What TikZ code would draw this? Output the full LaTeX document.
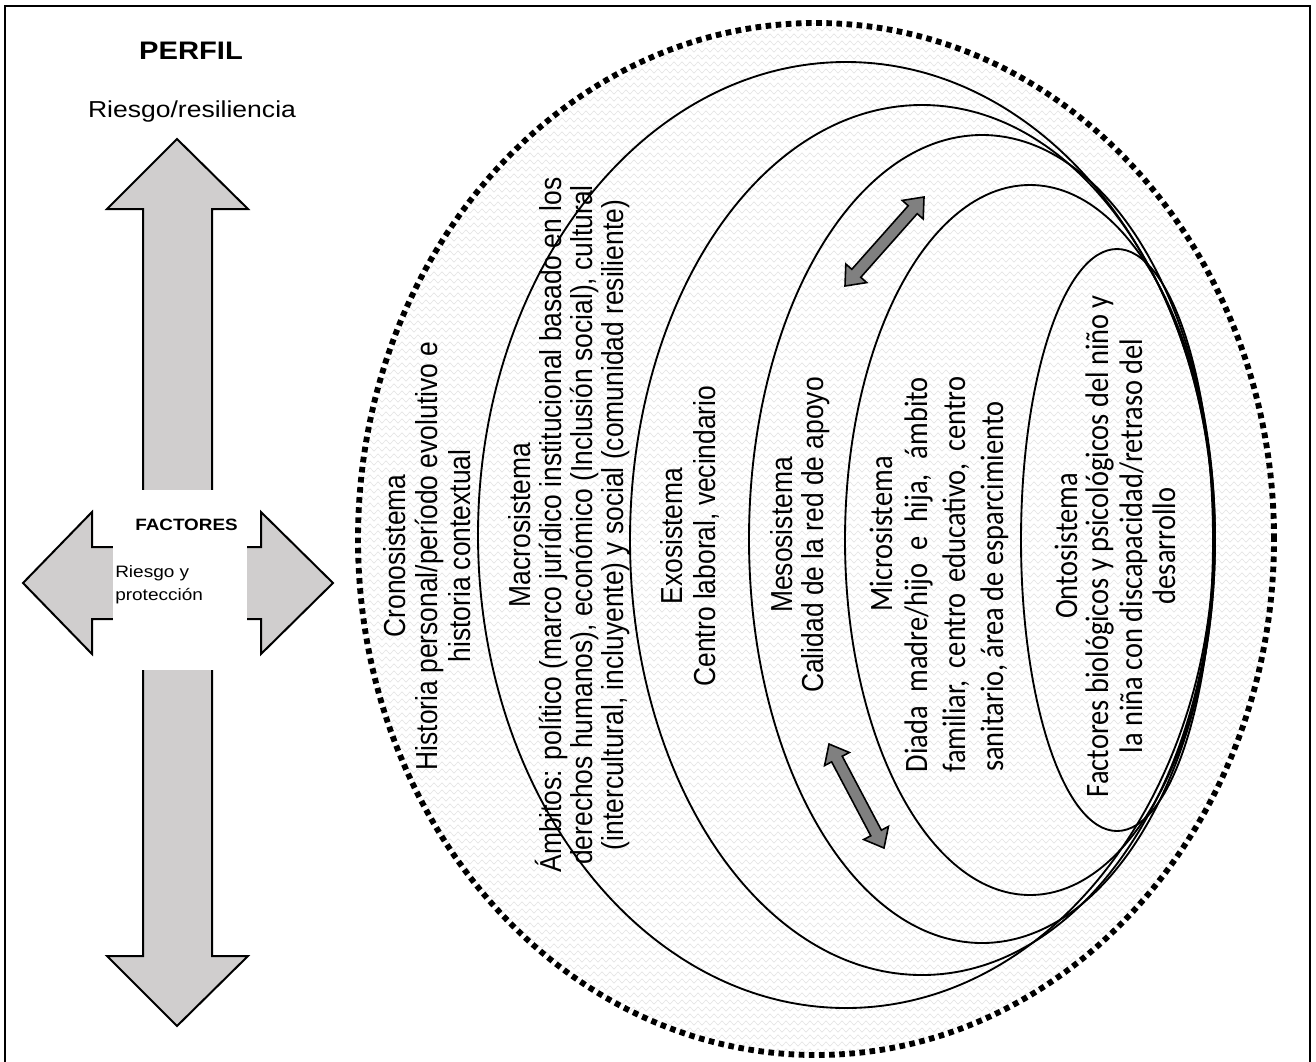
\documentclass[tikz,border=0pt]{standalone}
\usepackage{fontspec}
\setmainfont{Liberation Sans}
\newfontfamily\calib{Carlito}
\usetikzlibrary{calc,decorations.pathmorphing}
\newcommand\vx[1]{\scalebox{1}[1.15]{#1}}
\newcommand\hx[1]{\scalebox{1.15}[1]{#1}}
\definecolor{arrgray}{RGB}{208,206,206}
\definecolor{dgray}{RGB}{128,128,128}
\newcommand\dblarrow[3]{%
  \coordinate (#1h1) at ($(#2)!12.75pt!(#3)$);
  \coordinate (#1h2) at ($(#3)!12.75pt!(#2)$);
  \draw[smallarrow] (#2) -- ($(#1h1)!10.5pt!90:(#3)$) -- ($(#1h1)!4.5pt!90:(#3)$)
    -- ($(#1h2)!4.5pt!-90:(#2)$) -- ($(#1h2)!10.5pt!-90:(#2)$) -- (#3)
    -- ($(#1h2)!10.5pt!90:(#2)$) -- ($(#1h2)!4.5pt!90:(#2)$)
    -- ($(#1h1)!4.5pt!-90:(#3)$) -- ($(#1h1)!10.5pt!-90:(#3)$) -- cycle;}
\begin{document}
\begin{tikzpicture}[x=0.75pt,y=-0.75pt,
  rtxt/.style={rotate=90, anchor=base, inner sep=0pt, font=\fontsize{19.8}{23}\selectfont},
  ctxt/.style={rotate=90, anchor=base, inner sep=0pt, font=\calib\fontsize{21.3}{25}\selectfont},
  sys/.style={line width=1.4pt},
  dotring/.style={line width=4.4pt, dash pattern=on 4.2pt off 3.4pt},
  bigarrow/.style={fill=arrgray, draw=black, line width=1.5pt, line join=miter},
  smallarrow/.style={fill=dgray, draw=black, line width=1.2pt, line join=miter},
  zig/.style={decorate, decoration={zigzag, segment length=6pt, amplitude=1.6pt}, draw=black!10, line width=0.5pt}]
\useasboundingbox (0,0) rectangle (1316,1061);
% frame
\draw[line width=1.7pt] (5,1075) -- (5,6) -- (1310,6) -- (1310,1075);
% background texture
\begin{scope}
  \clip (816,539) ellipse [x radius=343.5pt, y radius=387pt];
  \foreach \r in {0,...,148} {\draw[zig] (352,{22+7*\r}) -- (1282,{22+7*\r});}
\end{scope}
\draw[dotring] (816,539) ellipse [x radius=343.5pt, y radius=387pt];
% system ellipses
\draw[sys] (846,535) ellipse [x radius=276pt, y radius=354.75pt];
\draw[sys] (922,540) ellipse [x radius=219pt, y radius=326.25pt];
\draw[sys] (982,539) ellipse [x radius=174.75pt, y radius=303pt];
\draw[sys] (1030,540) ellipse [x radius=138.75pt, y radius=266.25pt];
\draw[sys] (1117,540) ellipse [x radius=72pt, y radius=218.25pt];
% small double arrows
\coordinate (ua1) at (845,286);
\coordinate (ua2) at (924,197);
\coordinate (la1) at (829,744);
\coordinate (la2) at (884,848);
\dblarrow{ua}{ua1}{ua2}
\dblarrow{la}{la1}{la2}
% big quad arrow
\draw[bigarrow] (177,139) -- (248,209) -- (212,209) -- (212,547) -- (261,547) -- (261,512)
  -- (333,583) -- (261,654) -- (261,619) -- (212,619) -- (212,956) -- (248,956)
  -- (177,1026) -- (107,956) -- (143,956) -- (143,619) -- (92,619) -- (92,654)
  -- (23,583) -- (92,512) -- (92,547) -- (143,547) -- (143,209) -- (107,209) -- cycle;
\node[fill=white, inner sep=0pt, minimum width=100.5pt, minimum height=135pt] (fbox) at (180,580) {};
% left texts
\node[anchor=base, inner sep=0pt, font=\bfseries\fontsize{19}{22}\selectfont] (perfil) at (191,59) {\hx{PERFIL}};
\node[anchor=base, inner sep=0pt, font=\fontsize{17.3}{20}\selectfont] (riesgo) at (192,117) {\hx{Riesgo/resiliencia}};
\node[anchor=base, inner sep=0pt, font=\bfseries\fontsize{12.3}{15}\selectfont] (factores) at (186.5,530) {\hx{FACTORES}};
\node[anchor=base west, inner sep=0pt, font=\fontsize{12.4}{15}\selectfont] (ryp1) at (115,577) {\hx{Riesgo y}};
\node[anchor=base west, inner sep=0pt, font=\fontsize{12.4}{15}\selectfont] (ryp2) at (115,600) {\hx{protección}};
% Cronosistema
\node[rtxt] (cro1) at (405,556) {\vx{Cronosistema}};
\node[rtxt] (cro2) at (437,556) {\vx{Historia personal/período evolutivo e}};
\node[rtxt] (cro3) at (470,556) {\vx{historia contextual}};
% Macrosistema
\node[rtxt] (mac1) at (530,525) {\vx{Macrosistema}};
\node[rtxt] (mac2) at (561,525) {\vx{Ámbitos: político (marco jurídico institucional basado en los}};
\node[rtxt] (mac3) at (592,525) {\vx{derechos humanos), económico (Inclusión social), cultural}};
\node[rtxt] (mac4) at (623,525) {\vx{(intercultural, incluyente) y social (comunidad resiliente)}};
% Exosistema
\node[rtxt] (exo1) at (682,536) {\vx{Exosistema}};
\node[rtxt] (exo2) at (715,536) {\vx{Centro laboral, vecindario}};
% Mesosistema
\node[rtxt] (mes1) at (792,535) {\vx{Mesosistema}};
\node[rtxt] (mes2) at (823,535) {\vx{Calidad de la red de apoyo}};
% Microsistema
\node[ctxt] (mic1) at (892,534) {\vx{Microsistema}};
\node[ctxt] (mic2) at (927,574.5) {\vx{\makebox[296.25pt][s]{Diada madre/hijo e hija, ámbito}}};
\node[ctxt] (mic3) at (965,574.5) {\vx{\makebox[296.25pt][s]{familiar, centro educativo, centro}}};
\node[ctxt, anchor=base west] (mic4) at (1003,772) {\vx{sanitario, área de esparcimiento}};
% Ontosistema
\node[ctxt] (ont1) at (1077,546) {\vx{Ontosistema}};
\node[ctxt] (ont2) at (1108,546) {\vx{Factores biológicos y psicológicos del niño y}};
\node[ctxt] (ont3) at (1142,546) {\vx{la niña con discapacidad/retraso del}};
\node[ctxt] (ont4) at (1175,546) {\vx{desarrollo}};
\end{tikzpicture}
\end{document}
